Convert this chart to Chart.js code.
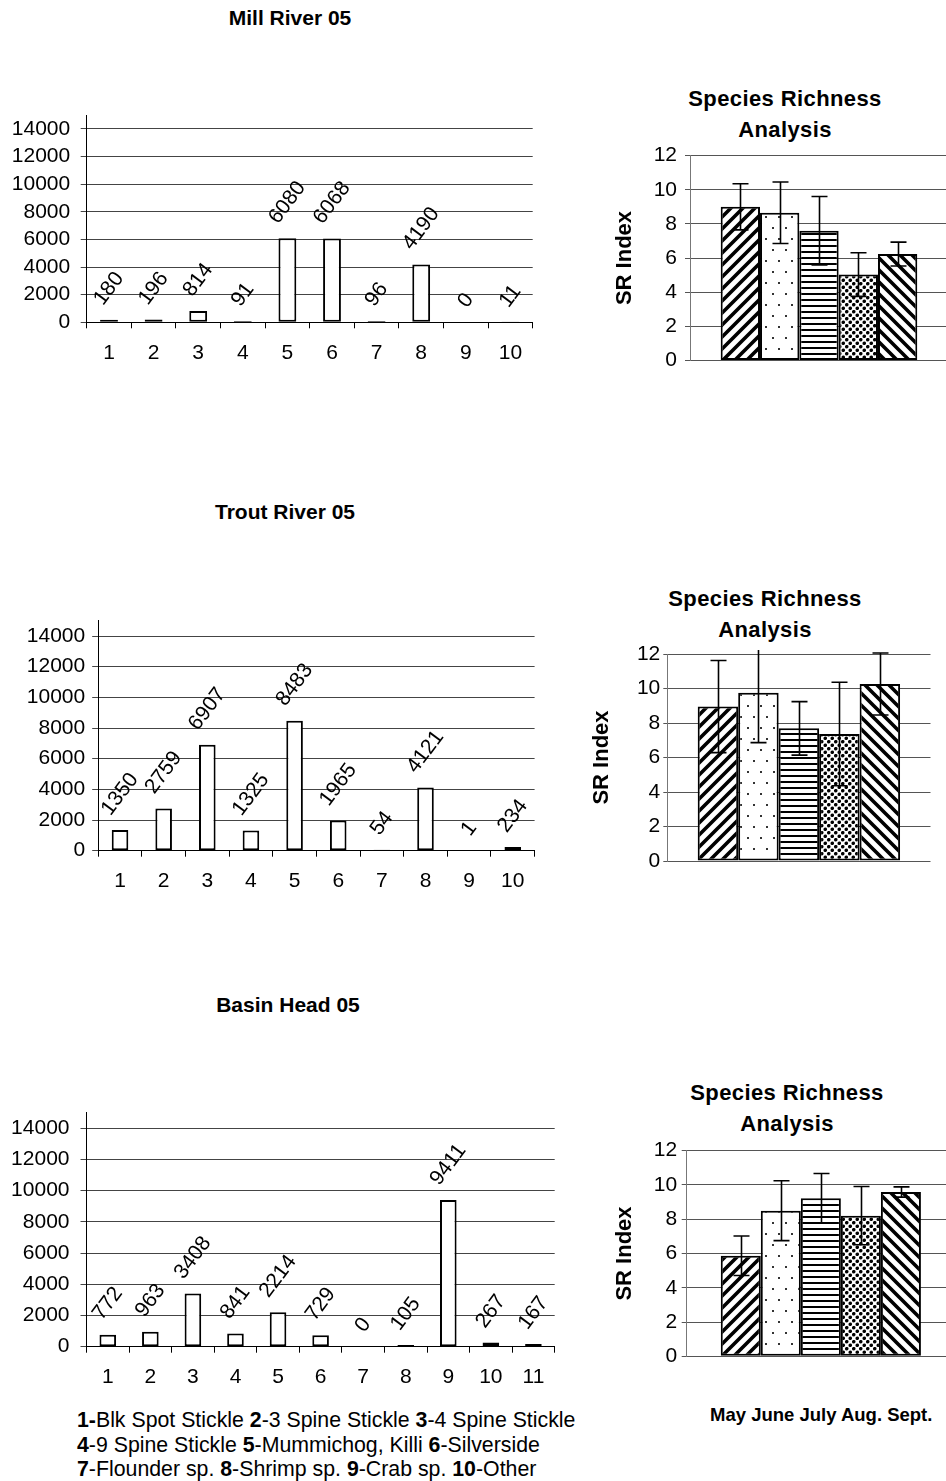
<!DOCTYPE html>
<html>
<head>
<meta charset="utf-8">
<title>Fish counts and species richness, 2005</title>
<script src="https://cdn.jsdelivr.net/npm/chart.js@4.4.1/dist/chart.umd.min.js"></script>
<style>
  html, body { margin: 0; padding: 0; background: #fff; overflow: hidden; }
  body { position: relative; width: 946px; height: 1481px;
         font-family: "Liberation Sans", Arial, Helvetica, sans-serif; color: #000; }
  canvas { position: absolute; }
  .ttl { position: absolute; font-weight: bold; text-align: center; white-space: nowrap; }
  .key { position: absolute; left: 77px; top: 1408px; font-size: 21.3px; line-height: 24.5px; white-space: nowrap; }
  .months { position: absolute; font-weight: bold; white-space: nowrap; }
</style>
</head>
<body>

<div class="ttl" style="left:140px;width:300px;top:6px;font-size:21px;line-height:24px;">Mill River 05</div>
<div class="ttl" style="left:135px;width:300px;top:500px;font-size:21px;line-height:24px;">Trout River 05</div>
<div class="ttl" style="left:138px;width:300px;top:993px;font-size:21px;line-height:24px;">Basin Head 05</div>

<div class="ttl" style="left:635px;width:300px;top:83px;font-size:22px;line-height:31px;letter-spacing:0.4px;">Species Richness<br>Analysis</div>
<div class="ttl" style="left:615px;width:300px;top:583px;font-size:22px;line-height:31px;letter-spacing:0.4px;">Species Richness<br>Analysis</div>
<div class="ttl" style="left:637px;width:300px;top:1077px;font-size:22px;line-height:31px;letter-spacing:0.4px;">Species Richness<br>Analysis</div>

<canvas id="millCounts"  width="560" height="340" style="left:0;top:40px;"></canvas>
<canvas id="troutCounts" width="560" height="380" style="left:0;top:540px;"></canvas>
<canvas id="basinCounts" width="580" height="360" style="left:0;top:1040px;"></canvas>

<canvas id="millSR"  width="360" height="246" style="left:600px;top:135px;"></canvas>
<canvas id="troutSR" width="360" height="245" style="left:575px;top:635px;"></canvas>
<canvas id="basinSR" width="360" height="245" style="left:600px;top:1130px;"></canvas>

<div class="key">
  <b>1-</b>Blk Spot Stickle <b>2</b>-3 Spine Stickle <b>3</b>-4 Spine Stickle<br>
  <b>4</b>-9 Spine Stickle <b>5</b>-Mummichog, Killi <b>6</b>-Silverside<br>
  <b>7</b>-Flounder sp. <b>8</b>-Shrimp sp. <b>9</b>-Crab sp. <b>10</b>-Other
</div>
<div class="months" id="monthLine" style="left:710px;top:1404px;font-size:18.5px;line-height:22px;"></div>

<script>
// ---- species counts per site (category numbers refer to the key below the charts)
const riverCategories = ['1', '2', '3', '4', '5', '6', '7', '8', '9', '10'];
const basinCategories = ['1', '2', '3', '4', '5', '6', '7', '8', '9', '10', '11'];
const millCounts  = [180, 196, 814, 91, 6080, 6068, 96, 4190, 0, 11];
const troutCounts = [1350, 2759, 6907, 1325, 8483, 1965, 54, 4121, 1, 234];
const basinCounts = [772, 963, 3408, 841, 2214, 729, 0, 105, 9411, 267, 167];
const countTicks  = [0, 2000, 4000, 6000, 8000, 10000, 12000, 14000];

// ---- monthly species richness index (mean and error) per site
const months   = ['May', 'June', 'July', 'Aug.', 'Sept.'];
const millSR   = [9.0, 8.65, 7.6, 5.03, 6.23];
const millErr  = [1.35, 1.8, 2.0, 1.28, 0.7];
const troutSR  = [8.95, 9.76, 7.69, 7.36, 10.26];
const troutErr = [2.67, 2.9, 1.55, 3.0, 1.8];
const basinSR  = [5.87, 8.5, 9.22, 8.21, 9.59];
const basinErr = [1.15, 1.75, 1.45, 1.7, 0.3];
const srTicks  = [0, 2, 4, 6, 8, 10, 12];

const FONT = '"Liberation Sans", Arial, Helvetica, sans-serif';
Chart.defaults.font.family = FONT;
Chart.defaults.color = '#000';

document.getElementById('monthLine').textContent = months.join(' ');

const plainNumber = v => String(v);

// rotated value labels above each count bar
const barValueLabels = {
  id: 'barValueLabels',
  afterDatasetsDraw(chart, args, opts) {
    const { ctx } = chart;
    const meta = chart.getDatasetMeta(0);
    const values = chart.data.datasets[0].data;
    const th = opts.angle * Math.PI / 180;
    ctx.save();
    ctx.font = opts.size + 'px ' + FONT;
    ctx.fillStyle = '#000';
    ctx.textAlign = 'center';
    ctx.textBaseline = 'middle';
    meta.data.forEach((bar, i) => {
      const text = String(values[i]);
      const L = ctx.measureText(text).width;
      const h = opts.size * 0.72;
      const H = L * Math.sin(th) + h * Math.cos(th);
      ctx.save();
      ctx.translate(bar.x, bar.y - opts.gap - H / 2);
      ctx.rotate(-th);
      ctx.fillText(text, 0, 0);
      ctx.restore();
    });
    ctx.restore();
  }
};

// vertical error bars with caps on the richness charts
const errorBars = {
  id: 'errorBars',
  afterDatasetsDraw(chart, args, opts) {
    const { ctx, chartArea } = chart;
    const y = chart.scales.y;
    ctx.save();
    ctx.beginPath();
    ctx.rect(chartArea.left, chartArea.top - 4, chartArea.right - chartArea.left, chartArea.bottom - chartArea.top + 4);
    ctx.clip();
    ctx.strokeStyle = '#000';
    ctx.lineWidth = 1.6;
    chart.data.datasets.forEach((ds, i) => {
      const bar = chart.getDatasetMeta(i).data[0];
      const m = ds.data[0], e = opts.errors[i];
      const x = Math.round(bar.x) + 0.5;
      const yTop = y.getPixelForValue(m + e);
      const yBot = y.getPixelForValue(m - e);
      ctx.beginPath();
      ctx.moveTo(x, yTop); ctx.lineTo(x, yBot);
      ctx.moveTo(x - 8, yTop); ctx.lineTo(x + 8, yTop);
      ctx.moveTo(x - 8, yBot); ctx.lineTo(x + 8, yBot);
      ctx.stroke();
    });
    ctx.restore();
  }
};

// black-and-white fill patterns for the five months
function tile(w, h, draw) {
  const c = document.createElement('canvas');
  c.width = w; c.height = h;
  const g = c.getContext('2d');
  g.fillStyle = '#fff'; g.fillRect(0, 0, w, h);
  g.fillStyle = '#000'; g.strokeStyle = '#000';
  draw(g, w, h);
  return g.createPattern(c, 'repeat');
}
function makePatterns() {
  const fwd = tile(12, 12, (g, w) => {
    g.lineWidth = 3.6;
    g.beginPath();
    g.moveTo(-2, w + 2); g.lineTo(w + 2, -2);
    g.moveTo(-2, 2); g.lineTo(2, -2);
    g.moveTo(w - 2, w + 2); g.lineTo(w + 2, w - 2);
    g.stroke();
  });
  const dots = tile(13, 22, (g) => {
    g.fillStyle = '#333';
    g.fillRect(3, 4, 2, 2);
    g.fillRect(9, 15, 2, 2);
  });
  const horiz = tile(4, 6, (g) => {
    g.fillRect(0, 2, 4, 2);
  });
  const dense = tile(7, 7, (g) => {
    g.beginPath(); g.arc(1.75, 1.75, 1.8, 0, Math.PI * 2); g.fill();
    g.beginPath(); g.arc(5.25, 5.25, 1.8, 0, Math.PI * 2); g.fill();
  });
  const back = tile(12, 12, (g, w) => {
    g.lineWidth = 3.6;
    g.beginPath();
    g.moveTo(-2, -2); g.lineTo(w + 2, w + 2);
    g.moveTo(w - 2, -2); g.lineTo(w + 2, 2);
    g.moveTo(-2, w - 2); g.lineTo(2, w + 2);
    g.stroke();
  });
  return [fwd, dots, horiz, dense, back];
}
const monthFills = makePatterns();

function countChart(id, cats, vals, o) {
  return new Chart(document.getElementById(id), {
    type: 'bar',
    data: {
      labels: cats,
      datasets: [{
        data: vals,
        backgroundColor: '#fff',
        borderColor: '#000',
        borderWidth: 2,
        borderSkipped: false,
        categoryPercentage: 1,
        barPercentage: o.bar
      }]
    },
    options: {
      responsive: false,
      animation: false,
      events: [],
      layout: { padding: { left: 0, top: o.top, right: o.right, bottom: 0 } },
      plugins: {
        legend: { display: false },
        tooltip: { enabled: false },
        barValueLabels: { angle: 53, size: 21, gap: 12.5 }
      },
      scales: {
        x: {
          offset: true,
          grid: { display: true, offset: true, drawOnChartArea: false, drawTicks: true, tickLength: 6, color: '#000', lineWidth: 1 },
          border: { display: true, color: '#000', width: 1 },
          ticks: { font: { size: 21 }, color: '#000', padding: 12.4, maxRotation: 0, autoSkip: false },
          afterFit: s => { s.height = o.xH; }
        },
        y: {
          min: 0,
          max: 15000,
          grid: { color: '#444', lineWidth: 1, drawTicks: true, tickLength: 6 },
          border: { display: true, color: '#000', width: 1 },
          ticks: { stepSize: 2000, font: { size: 21 }, color: '#000', padding: o.yPad, callback: plainNumber },
          afterBuildTicks: s => { s.ticks = countTicks.map(v => ({ value: v })); },
          afterFit: s => { s.width = o.yW; }
        }
      }
    },
    plugins: [barValueLabels]
  });
}

function richnessChart(id, means, errs, o) {
  return new Chart(document.getElementById(id), {
    type: 'bar',
    data: {
      labels: [''],
      datasets: months.map((m, i) => ({
        label: m,
        data: [means[i]],
        backgroundColor: monthFills[i],
        borderColor: '#000',
        borderWidth: 2,
        borderSkipped: false,
        categoryPercentage: o.cat,
        barPercentage: 1
      }))
    },
    options: {
      responsive: false,
      animation: false,
      events: [],
      layout: { padding: { left: 0, top: o.top, right: o.right, bottom: o.bottom } },
      plugins: {
        legend: { display: false },
        tooltip: { enabled: false },
        errorBars: { errors: errs }
      },
      scales: {
        x: { display: false },
        y: {
          min: 0,
          max: 12,
          grid: { color: '#555', lineWidth: 1, drawTicks: true, tickLength: o.tick },
          border: { display: true, color: '#777', width: 1 },
          ticks: { stepSize: 2, font: { size: 21 }, color: '#000', padding: o.yPad, callback: plainNumber },
          afterBuildTicks: s => { s.ticks = srTicks.map(v => ({ value: v })); },
          title: { display: true, text: 'SR Index', font: { size: 22, weight: 'bold' }, color: '#000', padding: { top: o.tPad, bottom: 0 } },
          afterFit: s => { s.width = o.yW; }
        }
      }
    },
    plugins: [errorBars]
  });
}

countChart('millCounts',  riverCategories, millCounts,  { top: 75,   right: 27.3, yW: 86.7, xH: 57.7, yPad: 10.5, bar: 0.40 });
countChart('troutCounts', riverCategories, troutCounts, { top: 80.7, right: 25.4, yW: 98.2, xH: 69.3, yPad: 7,    bar: 0.38 });
countChart('basinCounts', basinCategories, basinCounts, { top: 72.7, right: 25.3, yW: 86.5, xH: 53.3, yPad: 11,   bar: 0.39 });

richnessChart('millSR',  millSR,  millErr,  { top: 20,   bottom: 16.7, right: 12,  yW: 90,   cat: 0.762, tick: 5, yPad: 8,   tPad: 11.8 });
richnessChart('troutSR', troutSR, troutErr, { top: 19,   bottom: 19,   right: 4.5, yW: 92.3, cat: 0.769, tick: 4, yPad: 3,   tPad: 13.5 });
richnessChart('basinSR', basinSR, basinErr, { top: 20.7, bottom: 18.7, right: 5,   yW: 86.7, cat: 0.746, tick: 5, yPad: 4.5, tPad: 11.8 });
</script>
</body>
</html>
